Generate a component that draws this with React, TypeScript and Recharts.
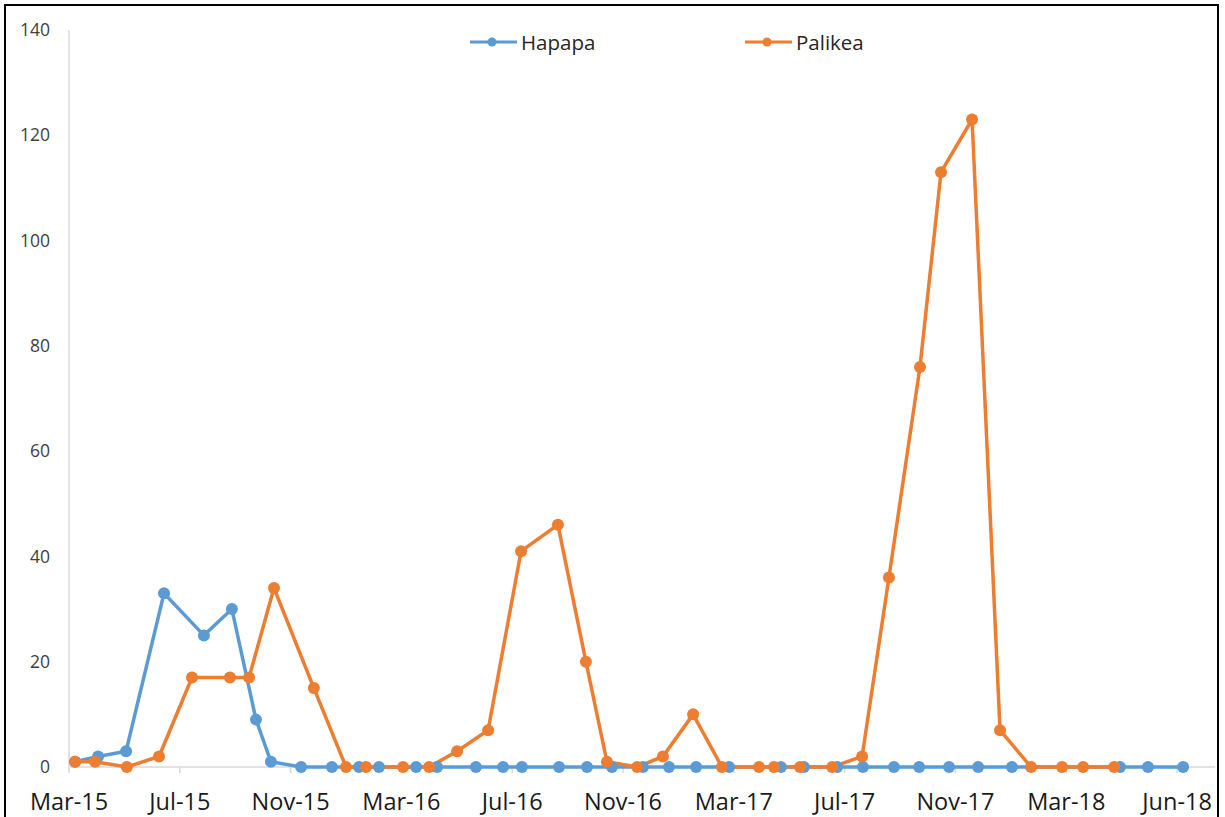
import { LineChart, Line, XAxis, YAxis, Legend } from "recharts";

// x positions are months counted from Mar-15 (one axis tick every 4 months)
const tickPositions = [0, 4, 8, 12, 16, 20, 24, 28, 32, 36, 40];
const tickLabels = [
  "Mar-15", "Jul-15", "Nov-15", "Mar-16", "Jul-16", "Nov-16",
  "Mar-17", "Jul-17", "Nov-17", "Mar-18", "Jun-18",
];
const yTicks = [0, 20, 40, 60, 80, 100, 120, 140];

const hapapaMonths = [
  0.22, 1.05, 2.06, 3.43, 4.87, 5.88, 6.75, 7.29, 8.38, 9.49, 10.47, 11.19,
  12.53, 13.29, 14.69, 15.67, 16.35, 17.69, 18.7, 19.6, 20.72, 21.66, 22.64,
  23.83, 25.7, 26.53, 27.73, 28.66, 29.78, 30.69, 31.77, 32.82, 34.04, 37.94,
  38.95, 40.22,
];
const hapapaValues = [
  1, 2, 3, 33, 25, 30, 9, 1, 0, 0, 0, 0, 0, 0, 0, 0, 0, 0, 0, 0, 0, 0, 0, 0,
  0, 0, 0, 0, 0, 0, 0, 0, 0, 0, 0, 0,
];

const palikeaMonths = [
  0.22, 0.94, 2.09, 3.25, 4.44, 5.81, 6.5, 7.4, 8.84, 10.0, 10.72, 12.06, 13.0,
  14.01, 15.13, 16.32, 17.65, 18.66, 19.42, 20.51, 21.44, 22.53, 23.57, 24.91,
  25.45, 26.39, 27.55, 28.63, 29.6, 30.72, 31.48, 32.6, 33.61, 34.73, 35.85,
  36.61, 37.73,
];
const palikeaValues = [
  1, 1, 0, 2, 17, 17, 17, 34, 15, 0, 0, 0, 0, 3, 7, 41, 46, 20, 1, 0, 2, 10, 0,
  0, 0, 0, 0, 2, 36, 76, 113, 123, 7, 0, 0, 0, 0,
];

const hapapa = hapapaMonths.map((t, i) => ({ t, value: hapapaValues[i] }));
const palikea = palikeaMonths.map((t, i) => ({ t, value: palikeaValues[i] }));

const BLUE = "#5B9BD5";
const ORANGE = "#ED7D31";
const FONT = "'Open Sans', sans-serif";

function LegendItem({ color, label, left }: { color: string; label: string; left: number }) {
  return (
    <div style={{ position: "absolute", left, top: 0, display: "flex", alignItems: "center" }}>
      <svg width={48} height={20}>
        <line x1={0} y1={10} x2={47} y2={10} stroke={color} strokeWidth={3} />
        <circle cx={22} cy={10} r={4.5} fill={color} />
      </svg>
      <span style={{ marginLeft: 3, fontSize: 20.5, color: "#262626", fontFamily: FONT }}>
        {label}
      </span>
    </div>
  );
}

function ChartLegend() {
  return (
    <div style={{ position: "relative", height: 30 }}>
      <LegendItem color={BLUE} label="Hapapa" left={470} />
      <LegendItem color={ORANGE} label="Palikea" left={745} />
    </div>
  );
}

// axes sit below the series, as in the original chart
const axisZ: any = { zIndex: 0 };

export default function App() {
  return (
    <div
      style={{
        position: "absolute",
        left: 0,
        top: 0,
        width: 1225,
        height: 817,
        overflow: "hidden",
        background: "#fff",
      }}
    >
      <div
        style={{
          position: "absolute",
          left: 4,
          top: 4,
          width: 1211,
          height: 900,
          border: "2px solid #000",
        }}
      />
      <div style={{ position: "absolute", left: 0, top: 0 }}>
        <LineChart
          width={1225}
          height={817}
          margin={{ top: 0, right: 10, bottom: 0, left: 9 }}
        >
          <XAxis
            {...axisZ}
            dataKey="t"
            type="number"
            domain={[0, 41.37]}
            ticks={tickPositions}
            tickFormatter={(v: number) => tickLabels[tickPositions.indexOf(v)]}
            height={50}
            axisLine={{ stroke: "#d9d9d9", strokeWidth: 1.5 }}
            tickLine={{ stroke: "#d9d9d9", strokeWidth: 1.5 }}
            tickSize={6}
            tickMargin={20}
            tick={{ fontSize: 23.5, fill: "#1a1a1a", fontFamily: FONT }}
            interval={0}
          />
          <YAxis
            {...axisZ}
            type="number"
            domain={[0, 140]}
            ticks={yTicks}
            width={60}
            axisLine={{ stroke: "#d9d9d9", strokeWidth: 1.5 }}
            tickLine={false}
            tickMargin={13}
            tick={{ fontSize: 17.5, fill: "#404040", fontFamily: FONT }}
          />
          <Legend
            verticalAlign="top"
            wrapperStyle={{ top: 28, left: 0, width: 1225, height: 30 }}
            content={() => <ChartLegend />}
          />
          <Line
            data={hapapa}
            dataKey="value"
            name="Hapapa"
            stroke={BLUE}
            strokeWidth={3.5}
            dot={{ r: 6, fill: BLUE, stroke: BLUE, strokeWidth: 0 }}
            isAnimationActive={false}
          />
          <Line
            data={palikea}
            dataKey="value"
            name="Palikea"
            stroke={ORANGE}
            strokeWidth={3.5}
            dot={{ r: 6, fill: ORANGE, stroke: ORANGE, strokeWidth: 0 }}
            isAnimationActive={false}
          />
        </LineChart>
      </div>
    </div>
  );
}
